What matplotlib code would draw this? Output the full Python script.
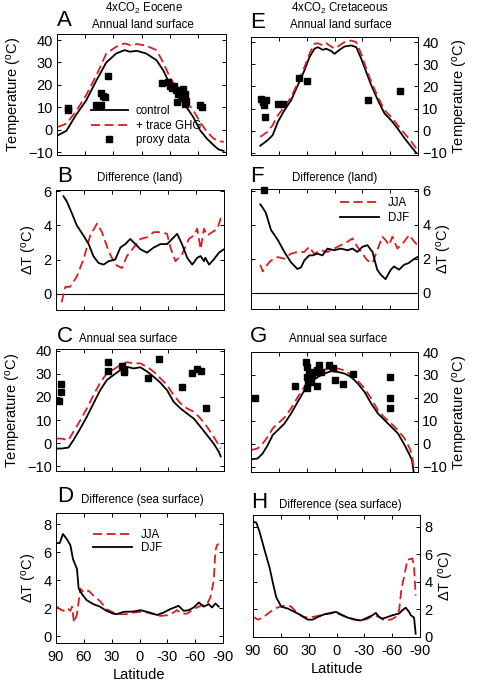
import matplotlib
matplotlib.use("Agg")
import matplotlib.pyplot as plt
import numpy as np

plt.rcParams['font.family'] = ['Liberation Sans', 'DejaVu Sans']
plt.rcParams['mathtext.fontset'] = 'custom'
plt.rcParams['mathtext.rm'] = 'Liberation Sans'
plt.rcParams['mathtext.it'] = 'Liberation Sans:italic'

RED = '#d81e1e'

# ---------------- Panel A: Eocene annual land surface ----------------
a_lat = [89, 80, 70, 59, 48, 37.5, 27, 18, 12.5, 5, -5, -16, -23, -30, -37.5, -48, -55, -62.5, -69.6, -77, -82, -87.5]
a_ctrl = [-2.5, -0.5, 6.4, 13, 22, 30, 34, 35.5, 34.8, 35.2, 34, 31, 26.6, 20.6, 15.4, 10, 5.7, -0.3, -4, -7, -8.8, -9.5]
a_ghg = [1.2, 2.7, 8, 15.4, 24.3, 34, 37, 38.5, 37.8, 38.2, 37.5, 35.5, 30, 23.6, 18.4, 12.4, 8.7, 3.4, -1, -4, -5, -5.5]
a_plat = [78.6, 78.6, 48, 45, 43.6, 43, 41.5, 39, 35.7, -21.4, -28.6, -30, -32, -34.6, -36.8, -39, -41, -44.6, -46.4, -37.5, -47, -42.8, -46.4, -62.5, -64]
a_ptmp = [8.6, 9.7, 11, 10.5, 11, 16.4, 15, 14.6, 24, 21, 21.4, 19.4, 18.7, 19.4, 17.6, 16, 17, 18, 16, 12.4, 13, 14.6, 11.4, 11, 10]

# ---------------- Panel B: Eocene land difference ----------------
b_lat_djf = [82, 78.5, 73, 67.8, 60.6, 55, 50, 44.5, 39, 33.7, 26.5, 21, 15.8, 10.4, 5, -0.4, -7.5, -14.7, -21.9, -29, -34.4, -39.8, -45, -50.6, -56, -61.3, -65, -68.5, -70, -74, -79, -84.6, -90]
b_djf = [5.7, 5.4, 4.7, 4.0, 3.4, 2.9, 2.2, 1.8, 1.7, 1.9, 2.0, 2.7, 2.9, 3.2, 2.9, 2.6, 2.4, 2.7, 2.9, 2.9, 3.2, 3.5, 2.9, 2.1, 1.7, 2.1, 2.2, 1.9, 2.1, 1.7, 2.0, 2.4, 2.6]
b_lat_jja = [84, 80, 75, 67.8, 60.6, 53.4, 46, 40.8, 33.7, 26.5, 19.4, 14, 6.8, -0.4, -7.5, -14.7, -21.9, -29, -32.6, -38, -45, -52.3, -57.7, -61.3, -65, -68.5, -72, -77.4, -83, -86.4, -90]
b_jja = [-0.5, 0.4, 0.4, 1.0, 2.0, 3.4, 4.1, 3.6, 2.5, 1.7, 1.5, 2.2, 2.7, 3.2, 3.3, 3.6, 3.6, 3.5, 2.7, 1.9, 2.3, 3.2, 3.4, 3.8, 2.6, 3.8, 3.4, 3.6, 3.8, 4.4, 4.5]

# ---------------- Panel C: Eocene annual sea surface ----------------
c_lat = [89.3, 84, 76.7, 71.4, 64, 57, 49.8, 42.7, 35.5, 28.3, 21, 14, 6.8, -0.4, -7.5, -14.7, -21.9, -29, -36, -43.4, -50.5, -57.7, -65, -72, -79, -84.6, -86.4]
c_ctrl = [-2.3, -2.3, -1.9, 1.3, 6.3, 11.4, 17.2, 22.9, 27.3, 29.5, 31.6, 33, 32.3, 32.8, 31, 28.7, 26.1, 22.9, 17.9, 15, 12.8, 10.6, 7, 3.4, -0.2, -3.8, -5.7]
c_ghg = [2, 2, 1.3, 4.9, 9.9, 15, 20.8, 26.1, 30.2, 31.9, 33.8, 35, 34.5, 34.5, 33, 30.9, 28, 25.1, 20.8, 17.2, 15, 13.6, 10.6, 7, 2.7, -0.9, -2.3]
c_plat = [86.4, 85, 85, 34.8, 34.8, 19.4, 17.6, 16.9, -8.6, -20.4, -45.5, -55.2, -60.6, -65.6, -70.6]
c_ptmp = [18.2, 22.2, 25.4, 35.2, 31.3, 33.4, 30.9, 31.6, 28.3, 36.4, 24.4, 30.2, 32, 31.3, 15.3]

# ---------------- Panel D: Eocene sea surface difference ----------------
d_lat_djf = [89, 86, 82.5, 78, 74.5, 71.7, 67.4, 65.6, 62, 57, 49.8, 42.6, 35.5, 28.3, 24.6, 17.1, 6.4, -0.9, -8, -15, -19, -26, -33, -42.2, -47.6, -53, -58.4, -64, -69.2, -74.5, -78.2, -81.8, -85.4]
d_djf = [6.65, 6.65, 7.3, 6.9, 6.5, 5.5, 4.8, 3.4, 3.0, 2.57, 2.28, 2.1, 1.8, 1.6, 1.56, 1.73, 1.75, 1.85, 1.73, 1.6, 1.5, 1.68, 1.92, 2.16, 1.8, 1.85, 2.04, 2.4, 2.1, 2.28, 2.04, 2.33, 2.1]
d_lat_jja = [89, 85.5, 81.7, 78, 74.5, 72.7, 70.6, 67.4, 63.8, 60, 54.8, 49.8, 42.6, 35.5, 28.3, 21, 13.9, 6.4, -0.9, -8, -15, -22.3, -29.4, -36.6, -40.4, -45.8, -51.2, -58.4, -65.6, -72.8, -76.4, -80, -81.8, -83.5, -85.4]
d_jja = [2.1, 1.9, 1.8, 2.0, 1.8, 2.1, 0.96, 1.56, 3.4, 3.1, 3.24, 2.9, 2.5, 1.92, 1.68, 1.56, 1.56, 1.68, 1.73, 1.68, 1.56, 1.44, 1.48, 1.68, 1.85, 1.6, 1.6, 1.92, 2.16, 2.28, 2.76, 3.96, 6.1, 6.5, 6.6]

# ---------------- Panel E: Cretaceous annual land surface ----------------
e_lat = [80, 72, 66.6, 61, 54, 46.8, 39.6, 32.4, 27, 21.6, 18, 12.6, 9, 3.6, 0, -5.4, -10.8, -18, -23.4, -28.8, -34.2, -39.6, -46.8, -54, -61, -68, -75.6, -82.8, -88]
e_ctrl = [-6.8, -4.3, -2, 4, 9.2, 13.7, 20.5, 27.2, 33.2, 37, 37.7, 36.5, 37, 36, 34.7, 36.5, 38, 38.5, 37.7, 32.5, 26.5, 20.5, 13.7, 7.7, 4.7, 1, -3.5, -7.3, -10]
e_ghg = [-2.8, -0.5, 2.5, 7, 10.7, 15.2, 21.5, 28.7, 34.7, 39.2, 39.5, 38.5, 39.5, 38, 37, 38.5, 40, 40.7, 40, 34.7, 28, 22, 15.2, 9.2, 6.2, 2.5, -1.3, -5, -8]
e_plat = [79, 77.4, 73.8, 75.6, 74.9, 61, 55.8, 37.8, 29.5, -36, -71]
e_ptmp = [14.2, 13, 13.7, 11.8, 6.2, 12.2, 12.2, 23.8, 22.3, 13.7, 17.9]

# ---------------- Panel F: Cretaceous land difference ----------------
f_lat = [80, 77.4, 74, 68.5, 61, 54, 47, 40, 36, 32.6, 27.3, 23.7, 18.3, 13, 7.5, 0.4, -6.8, -14, -19.4, -24.7, -30, -35.5, -41, -46, -49.8, -55, -60.6, -64.2, -69.6, -75, -80, -86, -89.5]
f_djf = [5.2, 5.0, 4.7, 3.7, 3.1, 2.4, 1.8, 1.4, 1.5, 1.9, 2.2, 2.2, 2.3, 2.2, 2.6, 2.5, 2.6, 2.5, 2.6, 2.4, 2.7, 2.8, 2.4, 1.36, 1.07, 0.8, 1.36, 1.55, 1.36, 1.65, 1.75, 2.0, 2.1]
f_lat_jja = [80, 77.4, 74, 68.5, 61, 54, 47, 40, 32.6, 27.3, 22, 14.7, 7.5, 0.4, -6.8, -14, -19.4, -24.7, -30, -35.5, -41, -46, -51.6, -55, -58.8, -62.4, -67.8, -75, -80.5, -86, -89.5]
f_jja = [1.65, 1.26, 1.55, 1.9, 2.1, 2.0, 2.3, 2.4, 2.4, 2.7, 2.3, 2.5, 2.4, 2.6, 2.8, 3.0, 3.2, 2.7, 2.3, 1.9, 1.75, 2.5, 3.3, 3.1, 2.8, 3.3, 2.6, 3.0, 3.4, 3.0, 2.8]
f_plat = [75.6]
f_ptmp = [6.05]

# ---------------- Panel G: Cretaceous annual sea surface ----------------
g_lat = [90, 82.8, 77.4, 72, 66.6, 61.2, 54, 46.8, 39.6, 32.4, 25.2, 18, 10.8, 3.6, -3.6, -10.8, -18, -25.2, -32.4, -39.6, -46.8, -54, -61.2, -68.4, -75.6, -81, -83.5, -85.3]
g_ctrl = [-6.8, -6.4, -4.2, -0.6, 3.8, 5.9, 8.8, 13.2, 18.3, 23.3, 27, 29.1, 30.6, 31.7, 31.3, 30.6, 29.1, 26.2, 22.6, 17.5, 13.2, 10.3, 7.4, 4.5, -0.6, -4.9, -7.1, -12.2]
g_ghg = [-2.8, -2, 0.1, 3, 6.7, 8.8, 11.4, 15.4, 20.4, 24.8, 28.4, 30.6, 32.3, 32.8, 32.8, 32, 29.9, 27.4, 24.1, 19.7, 14.6, 11.4, 8.8, 5.9, 2.3, -2, -4.9, -10]
g_plat = [85.7, 42.5, 30.6, 29.9, 29.5, 29.5, 28.1, 27, 25.2, 24.5, 21.6, 19, 18.7, 16.2, 14.4, 5.4, 1.8, 0, -9, -19.8, -59.4, -59.4, -59.4]
g_ptmp = [20, 25.1, 35.7, 33.5, 29.1, 24.1, 27, 30.6, 27, 30, 31.3, 32, 25.1, 34.2, 31.3, 34.2, 33.2, 28, 26.2, 30.3, 29.1, 20, 15.8]

# ---------------- Panel H: Cretaceous sea surface difference ----------------
h_lat_djf = [90, 86.4, 82.8, 77.5, 72, 68.5, 65, 59.6, 52.4, 45.3, 38.1, 31, 25.6, 20.2, 13, 5.9, 0.5, -6.6, -12, -19.2, -26.3, -33.5, -38.8, -42.4, -46, -49.6, -55, -60.3, -67.5, -71, -74.6, -78.2, -80, -83.6, -85.3]
h_djf = [8.36, 8.3, 7.6, 6.3, 5.0, 3.9, 2.9, 2.2, 2.06, 1.82, 1.58, 1.26, 1.26, 1.45, 1.65, 1.75, 1.82, 1.58, 1.41, 1.26, 1.2, 1.41, 1.58, 1.75, 1.45, 1.33, 1.45, 1.58, 1.7, 1.94, 2.13, 1.82, 1.58, 1.41, 0.24]
h_lat_jja = [90, 84.6, 79.3, 73.9, 66.7, 59.6, 54, 48.8, 43.5, 36.3, 29.2, 22, 13, 5.9, 2.3, -1.3, -8.4, -17.4, -26.3, -33.5, -40.6, -46, -51.4, -58.5, -63.9, -67.5, -70, -72.8, -76.4, -81.8, -83.6, -85.3]
h_jja = [1.45, 1.26, 1.41, 1.7, 2.06, 2.23, 2.3, 2.2, 1.82, 1.45, 1.41, 1.5, 1.65, 1.7, 1.82, 1.7, 1.5, 1.33, 1.16, 1.33, 1.58, 1.45, 1.2, 1.26, 1.45, 1.94, 3.5, 4.36, 5.6, 5.7, 5.1, 3.0]

lat_ticks = [90, 60, 30, 0, -30, -60, -90]
lat_ticklabels = ['90', '60', '30', '0', '-30', '-60', '-90']

W, H = 478, 684
fig = plt.figure(figsize=(W / 100, H / 100), dpi=100)


def make_ax(l, r, t, b, ylim, yticks, right=False, xlabels=False, ylabel=''):
    ax = fig.add_axes([l / W, 1 - b / H, (r - l) / W, (b - t) / H])
    ax.set_xlim(90, -90)
    ax.set_ylim(*ylim)
    ax.set_xticks(lat_ticks)
    ax.set_yticks(yticks)
    ax.tick_params(direction='in', top=True, right=True, length=3, width=0.7,
                   labelsize=10.5, pad=3)
    if xlabels:
        ax.set_xticklabels(lat_ticklabels)
        ax.tick_params(axis='x', pad=5)
        ax.set_xlabel('Latitude', fontsize=10.5, labelpad=3)
    else:
        ax.set_xticklabels([])
    if right:
        ax.tick_params(labelleft=False, labelright=True)
        ax.yaxis.set_label_position('right')
    ax.set_ylabel(ylabel, fontsize=10.5, labelpad=3)
    for s in ax.spines.values():
        s.set_linewidth(0.7)
    return ax


TLBL = 'Temperature ($^{\\mathrm{o}}$C)'
DLBL = '$\\Delta$T ($^{\\mathrm{o}}$C)'
LW = 1.3
DASH = (0, (5, 2.5))

# A
axA = make_ax(57, 226, 34, 155, (-11.3, 42.7), [-10, 0, 10, 20, 30, 40], ylabel=TLBL)
lc, = axA.plot(a_lat, a_ctrl, color='k', lw=LW, label='control')
lg, = axA.plot(a_lat, a_ghg, color=RED, lw=LW, linestyle=DASH, label='+ trace GHG')
lp, = axA.plot(a_plat, a_ptmp, 's', color='k', ms=4.3, label='proxy data')
axA.legend(handles=[lc, lg, lp], loc='upper left', bbox_to_anchor=(0.2, 0.41),
           frameon=False, fontsize=8.3, handlelength=3.2, handletextpad=0.7,
           labelspacing=0.2, borderpad=0, borderaxespad=0)

# E
axE = make_ax(251, 418, 37, 155, (-11, 42.3), [-10, 0, 10, 20, 30, 40], right=True, ylabel=TLBL)
axE.plot(e_lat, e_ctrl, color='k', lw=LW)
axE.plot(e_lat, e_ghg, color=RED, lw=LW, linestyle=DASH)
axE.plot(e_plat, e_ptmp, 's', color='k', ms=4.3)

# B
axB = make_ax(56, 224, 190, 310, (-0.95, 6.06), [0, 2, 4, 6], ylabel=DLBL)
axB.axhline(0, color='k', lw=0.8)
axB.plot(b_lat_jja, b_jja, color=RED, lw=LW, linestyle=DASH)
axB.plot(b_lat_djf, b_djf, color='k', lw=LW)

# F
axF = make_ax(251, 418, 189, 309, (-0.95, 6.1), [0, 2, 4, 6], right=True, ylabel=DLBL)
axF.axhline(0, color='k', lw=0.8)
fj, = axF.plot(f_lat_jja, f_jja, color=RED, lw=LW, linestyle=DASH, label='JJA')
fd, = axF.plot(f_lat, f_djf, color='k', lw=LW, label='DJF')
axF.plot(f_plat, f_ptmp, 's', color='k', ms=4.3, clip_on=False)
axF.legend(handles=[fj, fd], loc='upper left', bbox_to_anchor=(0.53, 0.93),
           frameon=False, fontsize=8.3, handlelength=3.4, handletextpad=0.8,
           labelspacing=0.25, borderpad=0, borderaxespad=0)

# C
axC = make_ax(56, 224, 349, 471, (-12, 40.7), [-10, 0, 10, 20, 30, 40], ylabel=TLBL)
axC.plot(c_lat, c_ctrl, color='k', lw=LW)
axC.plot(c_lat, c_ghg, color=RED, lw=LW, linestyle=DASH)
axC.plot(c_plat, c_ptmp, 's', color='k', ms=4.3)

# G
axG = make_ax(251, 418, 352, 472, (-12.3, 40), [-10, 0, 10, 20, 30, 40], right=True, ylabel=TLBL)
axG.plot(g_lat, g_ctrl, color='k', lw=LW)
axG.plot(g_lat, g_ghg, color=RED, lw=LW, linestyle=DASH)
axG.plot(g_plat, g_ptmp, 's', color='k', ms=4.3)

# D
axD = make_ax(56, 223, 513, 643, (-0.5, 8.8), [0, 2, 4, 6, 8], xlabels=True, ylabel=DLBL)
dj, = axD.plot(d_lat_jja, d_jja, color=RED, lw=LW, linestyle=DASH, label='JJA')
dd, = axD.plot(d_lat_djf, d_djf, color='k', lw=LW, label='DJF')
axD.legend(handles=[dj, dd], loc='upper left', bbox_to_anchor=(0.22, 0.88),
           frameon=False, fontsize=8.3, handlelength=3.4, handletextpad=0.8,
           labelspacing=0.15, borderpad=0, borderaxespad=0)

# H
axH = make_ax(253, 420, 515, 637, (0, 8.85), [0, 2, 4, 6, 8], right=True, xlabels=True, ylabel=DLBL)
axH.plot(h_lat_jja, h_jja, color=RED, lw=LW, linestyle=DASH)
axH.plot(h_lat_djf, h_djf, color='k', lw=LW)

# Panel letters and titles (pixel coordinates -> figure fraction)
def ftext(x, y, s, **kw):
    fig.text(x / W, 1 - y / H, s, **kw)

LET = dict(fontsize=16, ha='left', va='center')
TIT = dict(fontsize=8.3, ha='center', va='center')

ftext(57, 20, 'A', **LET)
ftext(144, 8, '4xCO$_2$ Eocene', **TIT)
ftext(143, 25, 'Annual land surface', **TIT)
ftext(250, 22, 'E', **LET)
ftext(340, 8, '4xCO$_2$ Cretaceous', **TIT)
ftext(341, 25, 'Annual land surface', **TIT)
ftext(57, 177, 'B', **LET)
ftext(140, 178, 'Difference (land)', **TIT)
ftext(250, 176, 'F', **LET)
ftext(335, 178, 'Difference (land)', **TIT)
ftext(57, 337, 'C', **LET)
ftext(128, 339, 'Annual sea surface', **TIT)
ftext(250, 336, 'G', **LET)
ftext(338, 339, 'Annual sea surface', **TIT)
ftext(57, 497, 'D', **LET)
ftext(142, 500, 'Difference (sea surface)', **TIT)
ftext(251, 503, 'H', **LET)
ftext(340, 505, 'Difference (sea surface)', **TIT)

fig.savefig('out.png', dpi=100)
